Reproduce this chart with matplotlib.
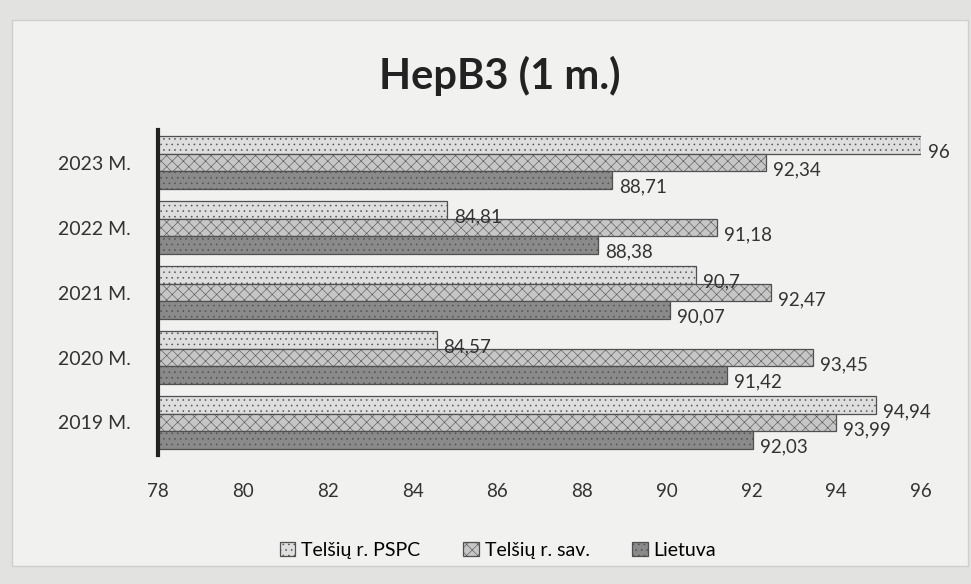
import matplotlib.pyplot as plt
import numpy as np

metai = ["2019 M.", "2020 M.", "2021 M.", "2022 M.", "2023 M."]
pspc = [94.94, 84.57, 90.7, 84.81, 96]
sav = [93.99, 93.45, 92.47, 91.18, 92.34]
lietuva = [92.03, 91.42, 90.07, 88.38, 88.71]
serijos = ["Telšių r. PSPC", "Telšių r. sav.", "Lietuva"]
spalvos = ["#dedede", "#c6c6c6", "#8a8a8a"]
hatch = ["...", "xxx", "..."]

def fmt(v):
    s = ("%.2f" % v).rstrip("0").rstrip(".")
    return s.replace(".", ",")

plt.rcParams['font.family'] = ['Lato', 'DejaVu Sans']
plt.rcParams['hatch.color'] = '#adadad'
plt.rcParams['hatch.linewidth'] = 0.4

fig = plt.figure(figsize=(9.71, 5.84), dpi=100, facecolor="#e2e2e0")
# baltas diagramos fonas
fig.patches.append(plt.Rectangle((0.012, 0.03), 0.985, 0.935, transform=fig.transFigure,
                                 facecolor="#f1f1ef", edgecolor="#cfcfcf", lw=1, zorder=-5))
ax = fig.add_axes([0.163, 0.221, 0.7855, 0.556])
ax.set_facecolor("none")

y = np.arange(len(metai))
h = 0.27
duomenys = [pspc, sav, lietuva]
for i, (vals, name) in enumerate(zip(duomenys, serijos)):
    pos = y + (1 - i) * h
    bars = ax.barh(pos, [v - 78 for v in vals], left=78, height=h, color=spalvos[i],
                   edgecolor="#505050", linewidth=0.9, hatch=hatch[i], label=name)
    for b, v in zip(bars, vals):
        ax.annotate(fmt(v), (v, b.get_y() + b.get_height() / 2), xytext=(5, -5),
                    textcoords="offset points", va="center", ha="left",
                    fontsize=13.5, color="#333333")

ax.set_xlim(78, 96)
ax.set_ylim(-0.5, 4.5)
ax.set_xticks(range(78, 97, 2))
ax.set_yticks(y)
ax.set_yticklabels(metai)
ax.tick_params(axis="x", length=0, pad=20, labelsize=13.5, colors="#333333")
ax.tick_params(axis="y", length=0, pad=20, labelsize=14, colors="#333333")
for s in ["top", "right", "bottom"]:
    ax.spines[s].set_visible(False)
ax.spines["left"].set_linewidth(3)
ax.spines["left"].set_color("#222222")

fig.text(0.515, 0.87, "HepB3 (1 m.)", ha="center", va="center", fontsize=30,
         fontweight="bold", color="#222222")

fig.legend(loc="center", bbox_to_anchor=(0.513, 0.058), ncol=3, frameon=False,
           fontsize=14, handlelength=0.8, handleheight=0.8, columnspacing=2.2,
           handletextpad=0.3)

fig.savefig("out.png", dpi=100, facecolor=fig.get_facecolor())
